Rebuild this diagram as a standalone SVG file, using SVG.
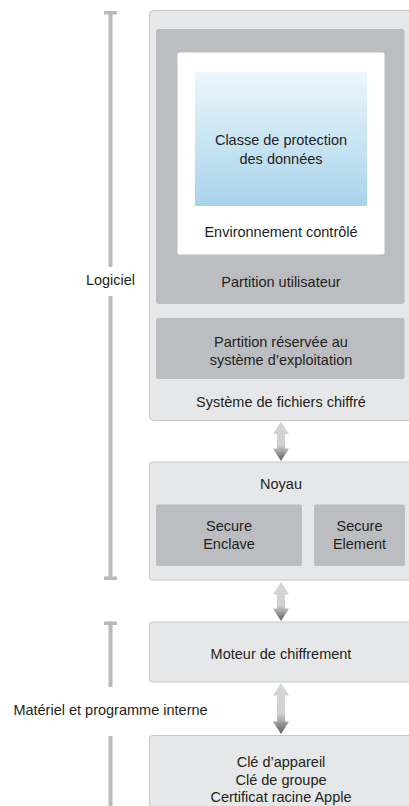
<svg xmlns="http://www.w3.org/2000/svg" width="409" height="806" viewBox="0 0 409 806">
<defs>
<linearGradient id="blue" x1="0" y1="0" x2="0" y2="1">
<stop offset="0" stop-color="#ecf7fc"/>
<stop offset="1" stop-color="#a9d3ea"/>
</linearGradient>
<linearGradient id="arrowGrad" x1="0" y1="0" x2="0" y2="1">
<stop offset="0" stop-color="#d4d5d7"/>
<stop offset="0.6" stop-color="#d0d1d2"/>
<stop offset="0.72" stop-color="#aeaeaf"/>
<stop offset="1" stop-color="#5a5a5b"/>
</linearGradient>
<style>
.outer{fill:#e6e7e8;stroke:#c6c7c9;stroke-width:1}
.dark{fill:#bcbdc0}
.white{fill:#ffffff}
.bar{fill:#b9babc}
.t{font-family:"Liberation Sans",Arial,sans-serif;font-size:14.5px;fill:#231f20;text-anchor:middle}
.arrow{fill:url(#arrowGrad)}
</style>
</defs>

<g id="logiciel-scale">
<rect class="bar" x="104" y="11" width="13" height="3.5"/>
<rect class="bar" x="108.5" y="11" width="4" height="256"/>
<rect class="bar" x="108.5" y="296" width="4" height="284"/>
<rect class="bar" x="104" y="576.5" width="13" height="3.5"/>
<text class="t" x="110.5" y="285">Logiciel</text>
</g>

<g id="materiel-scale">
<rect class="bar" x="104" y="621.5" width="13" height="3.5"/>
<rect class="bar" x="108.5" y="621.5" width="4" height="65.5"/>
<rect class="bar" x="108.5" y="736" width="4" height="70"/>
<text class="t" x="110.5" y="715">Matériel et programme interne</text>
</g>

<g id="filesystem">
<rect class="outer" x="149.5" y="10.5" width="270" height="410" rx="4"/>
<text class="t" x="281" y="407">Système de fichiers chiffré</text>
</g>

<g id="user-partition">
<rect class="dark" x="156" y="29" width="248.5" height="275" rx="3"/>
<text class="t" x="281" y="287">Partition utilisateur</text>
</g>

<g id="controlled-env">
<rect class="white" x="177.5" y="52.5" width="207" height="202" rx="2"/>
<text class="t" x="281" y="237">Environnement contrôlé</text>
</g>

<g id="data-protection">
<rect fill="url(#blue)" x="195" y="72" width="172" height="134"/>
<text class="t" x="281" y="145">Classe de protection</text>
<text class="t" x="281" y="164">des données</text>
</g>

<g id="os-partition">
<rect class="dark" x="156" y="318" width="248.5" height="61" rx="2"/>
<text class="t" x="281" y="347">Partition réservée au</text>
<text class="t" x="281" y="365">système d’exploitation</text>
</g>

<g id="kernel">
<rect class="outer" x="149.5" y="462" width="270" height="118" rx="3"/>
<text class="t" x="281" y="489">Noyau</text>
</g>

<g id="secure-enclave">
<rect class="dark" x="156" y="504.5" width="146" height="61.5" rx="2"/>
<text class="t" x="229" y="531">Secure</text>
<text class="t" x="229" y="549">Enclave</text>
</g>

<g id="secure-element">
<rect class="dark" x="314" y="504.5" width="91" height="61.5" rx="2"/>
<text class="t" x="359.5" y="531">Secure</text>
<text class="t" x="359.5" y="549">Element</text>
</g>

<g id="crypto-engine">
<rect class="outer" x="149.5" y="622" width="270" height="60" rx="3"/>
<text class="t" x="281" y="659">Moteur de chiffrement</text>
</g>

<g id="keys">
<rect class="outer" x="149.5" y="735.5" width="270" height="80" rx="3"/>
<text class="t" x="281" y="766.5">Clé d’appareil</text>
<text class="t" x="281" y="784.5">Clé de groupe</text>
<text class="t" x="281" y="802">Certificat racine Apple</text>
</g>

<g id="connectors">
<path class="arrow" d="M281,421.5 L289,434 L285,434 L285,448.5 L289,448.5 L281,461 L273,448.5 L277,448.5 L277,434 L273,434 Z"/>
<path class="arrow" d="M281,582 L289,594.5 L285,594.5 L285,608.5 L289,608.5 L281,621 L273,608.5 L277,608.5 L277,594.5 L273,594.5 Z"/>
<path class="arrow" d="M281,683 L289,695.5 L285,695.5 L285,721.5 L289,721.5 L281,734 L273,721.5 L277,721.5 L277,695.5 L273,695.5 Z"/>
</g>
</svg>
